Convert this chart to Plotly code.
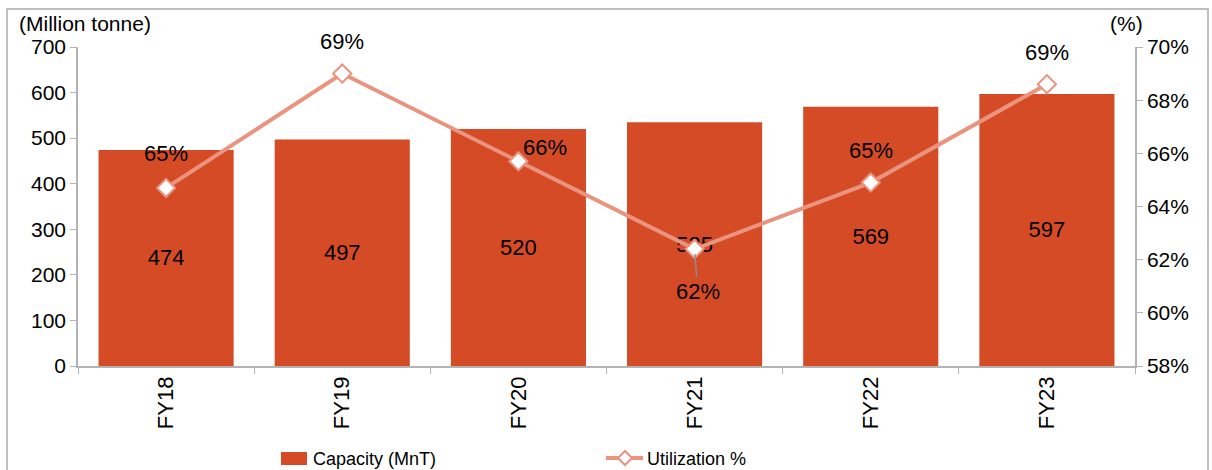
import plotly.graph_objects as go

years = ["FY18", "FY19", "FY20", "FY21", "FY22", "FY23"]
capacity = [474, 497, 520, 535, 569, 597]
utilization = [0.647, 0.690, 0.657, 0.624, 0.649, 0.686]

# label offsets (px) for the utilization labels: (xshift, yshift)
label_offsets = [(0, 34), (0, 32), (27, 14), (0, -42), (0, 32), (0, 32)]

BAR = "#D54B26"
LINE = "#EA937F"
FONT = "Liberation Sans, Arial, sans-serif"
GRID = "#B3B3B3"

# plot-area geometry in pixels, used to place the hand-drawn legend
L, R, T, B = 78, 77, 47, 104
W, H = 1212, 470
PW, PH = W - L - R, H - T - B


def px(x):
    return (x - L) / PW


def py(y):
    return (H - B - y) / PH


fig = go.Figure()
fig.add_trace(go.Bar(
    x=years, y=capacity, name="Capacity (MnT)",
    marker=dict(color=BAR, line=dict(width=0)),
    text=[str(v) for v in capacity], textposition="inside",
    insidetextanchor="middle", textfont=dict(size=22, color="black", family=FONT),
    textangle=0, cliponaxis=False,
))
fig.add_trace(go.Scatter(
    x=years, y=utilization, name="Utilization %", yaxis="y2",
    mode="lines+markers",
    line=dict(color=LINE, width=4),
    marker=dict(symbol="diamond", size=14, color="white", line=dict(color=LINE, width=2)),
    cliponaxis=False,
))

annotations = []
for yr, u, (dx, dy) in zip(years, utilization, label_offsets):
    txt = f"{int(u * 100 + 0.5)}%"
    if dy < 0:
        annotations.append(dict(
            x=yr, y=u, xref="x", yref="y2", text=txt, showarrow=True,
            arrowhead=0, arrowcolor="#8C8C8C", arrowwidth=1.5,
            ax=dx + 3, ay=-dy, standoff=5,
            font=dict(size=22, color="black", family=FONT),
        ))
    else:
        annotations.append(dict(
            x=yr, y=u, xref="x", yref="y2", text=txt, showarrow=False,
            xshift=dx, yshift=dy, font=dict(size=22, color="black", family=FONT),
        ))

annotations.append(dict(x=px(17), y=py(24), xref="paper", yref="paper", text="(Million tonne)",
                        showarrow=False, xanchor="left", yanchor="middle",
                        font=dict(size=21, color="black", family=FONT)))
annotations.append(dict(x=px(1145), y=py(24), xref="paper", yref="paper", text="(%)",
                        showarrow=False, xanchor="right", yanchor="middle",
                        font=dict(size=21, color="black", family=FONT)))

# legend entries
annotations.append(dict(x=px(311), y=py(459), xref="paper", yref="paper", text="Capacity (MnT)",
                        showarrow=False, xanchor="left", yanchor="middle",
                        font=dict(size=18, color="black", family=FONT)))
annotations.append(dict(x=px(645), y=py(459), xref="paper", yref="paper", text="Utilization %",
                        showarrow=False, xanchor="left", yanchor="middle",
                        font=dict(size=18, color="black", family=FONT)))

shapes = [
    dict(type="rect", xref="paper", yref="paper",
         x0=px(7), x1=px(1208), y0=py(478), y1=py(9),
         line=dict(color="#BFBFBF", width=2), fillcolor="rgba(0,0,0,0)", layer="below"),
    dict(type="rect", xref="paper", yref="paper",
         x0=px(281), x1=px(307), y0=py(465), y1=py(452),
         line=dict(width=0), fillcolor=BAR),
    dict(type="line", xref="paper", yref="paper",
         x0=px(606), x1=px(643), y0=py(458), y1=py(458),
         line=dict(color=LINE, width=4)),
    dict(type="path", xref="paper", yref="paper", xsizemode="pixel", ysizemode="pixel",
         xanchor=px(625), yanchor=py(458),
         path="M -7 0 L 0 7 L 7 0 L 0 -7 Z",
         line=dict(color=LINE, width=2), fillcolor="white"),
]

fig.update_layout(
    width=W, height=H,
    margin=dict(l=L, r=R, t=T, b=B, autoexpand=False),
    paper_bgcolor="white", plot_bgcolor="white",
    font=dict(family=FONT, size=21, color="black"),
    bargap=0.233,
    showlegend=False,
    xaxis=dict(showline=True, linecolor=GRID, linewidth=1.5, ticks="outside",
               tickson="boundaries", ticklen=6, tickcolor=GRID, tickangle=-90,
               showgrid=False, automargin=False, tickfont=dict(size=22)),
    yaxis=dict(range=[0, 700], dtick=100, showline=True, linecolor=GRID, linewidth=1.5,
               ticks="outside", ticklen=6, tickcolor=GRID, showgrid=False,
               zeroline=False, automargin=False, tickfont=dict(size=21)),
    yaxis2=dict(range=[0.58, 0.70], dtick=0.02, tickformat=".0%", overlaying="y",
                side="right", showline=True, linecolor=GRID, linewidth=1.5,
                ticks="outside", ticklen=6, tickcolor=GRID, showgrid=False,
                zeroline=False, automargin=False, tickfont=dict(size=21)),
    annotations=annotations,
    shapes=shapes,
)

fig.write_html("out.html")
